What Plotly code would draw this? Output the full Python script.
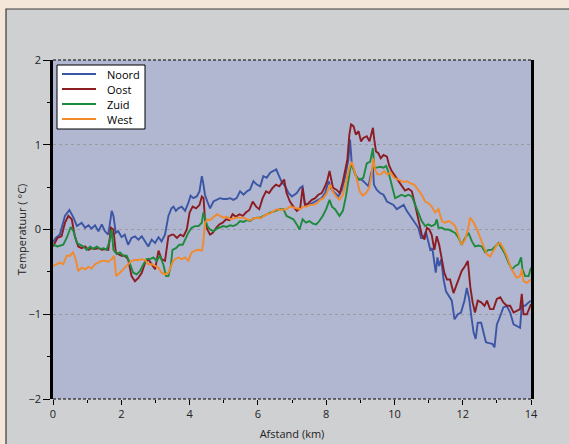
import plotly.graph_objects as go

# ---- data ----
noord_km = [0, 0.08, 0.2, 0.35, 0.48, 0.6, 0.7, 0.84, 0.94, 1.04, 1.13, 1.23, 1.33, 1.43, 1.52, 1.62, 1.72, 1.77, 1.84, 1.91,
            2.01, 2.1, 2.2, 2.3, 2.4, 2.5, 2.6, 2.7, 2.79, 2.89, 2.99, 3.09, 3.18, 3.28, 3.38, 3.47, 3.53, 3.6, 3.67, 3.77,
            3.87, 3.96, 4.03, 4.11, 4.21, 4.29, 4.36, 4.4, 4.45, 4.52, 4.6, 4.7, 4.8, 4.89, 4.99, 5.09, 5.19, 5.28, 5.38, 5.48,
            5.58, 5.68, 5.77, 5.87, 5.97, 6.07, 6.16, 6.26, 6.36, 6.46, 6.54, 6.6, 6.7, 6.8, 6.9, 7.0, 7.07, 7.14, 7.24, 7.31,
            7.38, 7.48, 7.58, 7.68, 7.77, 7.87, 7.97, 8.07, 8.16, 8.26, 8.36, 8.46, 8.55, 8.65, 8.7, 8.75, 8.85, 8.95, 9.04, 9.14,
            9.24, 9.32, 9.37, 9.4, 9.48, 9.58, 9.68, 9.78, 9.88, 9.97, 10.07, 10.17, 10.27, 10.36, 10.46, 10.56, 10.7, 10.78, 10.85, 10.92,
            10.98, 11.05, 11.11, 11.17, 11.21, 11.26, 11.31, 11.37, 11.44, 11.51, 11.58, 11.68, 11.76, 11.86, 11.95, 12.05, 12.12, 12.19, 12.25, 12.32,
            12.38, 12.44, 12.54, 12.61, 12.68, 12.77, 12.87, 12.93, 13.0, 13.1, 13.19, 13.29, 13.39, 13.49, 13.58, 13.68, 13.73, 13.83, 13.93, 14.0]
noord_t = [-0.15, -0.1, -0.06, 0.16, 0.23, 0.14, 0.04, 0.08, 0.02, 0.05, 0.01, 0.05, -0.02, 0.06, -0.02, -0.06, 0.22, 0.16, -0.04, -0.02,
           -0.09, -0.06, -0.18, -0.1, -0.08, -0.12, -0.08, -0.14, -0.2, -0.12, -0.16, -0.09, -0.14, -0.06, 0.16, 0.25, 0.27, 0.22, 0.25, 0.27,
           0.22, 0.31, 0.4, 0.37, 0.39, 0.45, 0.63, 0.55, 0.41, 0.33, 0.25, 0.33, 0.35, 0.37, 0.36, 0.36, 0.37, 0.35, 0.37, 0.45,
           0.41, 0.45, 0.47, 0.57, 0.53, 0.51, 0.63, 0.61, 0.67, 0.69, 0.71, 0.65, 0.56, 0.51, 0.43, 0.39, 0.41, 0.43, 0.49, 0.51,
           0.29, 0.29, 0.31, 0.33, 0.35, 0.37, 0.43, 0.57, 0.47, 0.43, 0.39, 0.47, 0.61, 0.82, 1.06, 0.78, 0.65, 0.59, 0.59, 0.55,
           0.51, 0.67, 0.73, 0.53, 0.47, 0.43, 0.41, 0.33, 0.31, 0.29, 0.24, 0.27, 0.29, 0.22, 0.16, 0.09, 0.02, -0.1, -0.1, -0.02,
           -0.12, -0.24, -0.22, -0.39, -0.51, -0.33, -0.43, -0.35, -0.59, -0.73, -0.78, -0.84, -1.06, -1.0, -0.98, -0.84, -0.69, -0.82, -1.02, -1.22,
           -1.29, -1.1, -1.1, -1.22, -1.33, -1.34, -1.35, -1.39, -1.12, -1.02, -0.92, -0.9, -0.98, -1.12, -1.14, -1.16, -0.9, -0.9, -0.86, -0.84]

oost_km = [0, 0.13, 0.25, 0.35, 0.45, 0.55, 0.64, 0.74, 0.84, 0.94, 1.04, 1.13, 1.23, 1.33, 1.43, 1.52, 1.62, 1.7, 1.77, 1.84,
           1.91, 2.01, 2.1, 2.2, 2.3, 2.4, 2.5, 2.6, 2.7, 2.79, 2.89, 2.99, 3.09, 3.18, 3.28, 3.38, 3.48, 3.53, 3.63, 3.73,
           3.82, 3.92, 4.0, 4.09, 4.19, 4.29, 4.36, 4.41, 4.45, 4.52, 4.6, 4.68, 4.78, 4.87, 4.97, 5.07, 5.17, 5.26, 5.36, 5.46,
           5.56, 5.65, 5.75, 5.85, 5.95, 6.04, 6.14, 6.24, 6.33, 6.43, 6.53, 6.63, 6.7, 6.77, 6.84, 6.94, 7.04, 7.14, 7.24, 7.31,
           7.38, 7.48, 7.58, 7.68, 7.77, 7.87, 7.97, 8.04, 8.1, 8.15, 8.2, 8.3, 8.4, 8.48, 8.55, 8.62, 8.68, 8.73, 8.8, 8.87,
           8.95, 9.02, 9.09, 9.19, 9.27, 9.37, 9.41, 9.46, 9.53, 9.6, 9.68, 9.78, 9.85, 9.92, 10.02, 10.12, 10.21, 10.31, 10.41, 10.51,
           10.6, 10.7, 10.8, 10.88, 10.95, 11.02, 11.09, 11.17, 11.24, 11.31, 11.39, 11.46, 11.54, 11.63, 11.73, 11.8, 11.88, 11.97, 12.07, 12.15,
           12.22, 12.29, 12.36, 12.44, 12.54, 12.64, 12.71, 12.8, 12.9, 13.0, 13.1, 13.19, 13.29, 13.39, 13.49, 13.58, 13.68, 13.73, 13.78, 13.88, 14.0]
oost_t = [-0.2, -0.1, -0.08, 0.08, 0.16, 0.12, -0.08, -0.2, -0.22, -0.2, -0.24, -0.22, -0.23, -0.22, -0.24, -0.23, -0.24, 0.02, 0.0, -0.27,
          -0.29, -0.31, -0.31, -0.35, -0.55, -0.61, -0.57, -0.51, -0.39, -0.35, -0.41, -0.47, -0.25, -0.35, -0.37, -0.08, -0.06, -0.06, -0.1, -0.06,
          -0.08, 0.0, 0.2, 0.27, 0.25, 0.29, 0.39, 0.37, 0.12, 0.0, -0.06, -0.04, 0.02, 0.06, 0.08, 0.12, 0.11, 0.18, 0.15, 0.18,
          0.16, 0.2, 0.23, 0.33, 0.27, 0.24, 0.37, 0.45, 0.43, 0.49, 0.53, 0.51, 0.55, 0.59, 0.43, 0.33, 0.27, 0.22, 0.25, 0.49,
          0.29, 0.31, 0.35, 0.37, 0.41, 0.43, 0.51, 0.59, 0.69, 0.57, 0.49, 0.47, 0.43, 0.55, 0.67, 0.82, 1.12, 1.24, 1.22, 1.12,
          1.16, 1.04, 1.08, 1.1, 1.04, 1.2, 1.06, 0.92, 0.9, 0.84, 0.88, 0.86, 0.75, 0.69, 0.63, 0.57, 0.51, 0.46, 0.48, 0.45,
          0.3, 0.12, -0.06, -0.12, 0.02, 0.0, -0.06, -0.24, -0.08, -0.18, -0.35, -0.51, -0.59, -0.59, -0.75, -0.67, -0.59, -0.49, -0.43, -0.37,
          -0.67, -0.86, -0.98, -0.84, -0.86, -0.9, -0.84, -0.94, -0.94, -0.82, -0.8, -0.86, -0.9, -0.9, -0.98, -0.96, -0.94, -0.76, -1.0, -1.0, -0.88]

zuid_km = [0, 0.13, 0.3, 0.4, 0.52, 0.6, 0.7, 0.79, 0.89, 0.99, 1.09, 1.18, 1.28, 1.38, 1.48, 1.57, 1.67, 1.72, 1.77, 1.87,
           1.96, 2.06, 2.16, 2.26, 2.35, 2.45, 2.55, 2.65, 2.74, 2.84, 2.94, 3.04, 3.13, 3.23, 3.31, 3.38, 3.45, 3.5, 3.6, 3.7,
           3.8, 3.87, 3.96, 4.06, 4.16, 4.26, 4.36, 4.4, 4.45, 4.52, 4.6, 4.7, 4.8, 4.89, 4.99, 5.09, 5.19, 5.28, 5.38, 5.48,
           5.58, 5.68, 5.77, 5.87, 5.97, 6.07, 6.16, 6.26, 6.36, 6.46, 6.55, 6.65, 6.75, 6.84, 6.94, 7.04, 7.14, 7.22, 7.31, 7.41,
           7.51, 7.61, 7.71, 7.8, 7.9, 8.0, 8.1, 8.17, 8.26, 8.39, 8.49, 8.58, 8.68, 8.73, 8.8, 8.9, 8.99, 9.09, 9.19, 9.29,
           9.37, 9.41, 9.48, 9.58, 9.68, 9.76, 9.83, 9.92, 10.02, 10.12, 10.21, 10.31, 10.41, 10.51, 10.6, 10.7, 10.8, 10.9, 10.99, 11.09,
           11.19, 11.24, 11.29, 11.39, 11.48, 11.58, 11.68, 11.78, 11.88, 11.97, 12.07, 12.17, 12.27, 12.36, 12.46, 12.56, 12.66, 12.75, 12.85, 12.95,
           13.05, 13.14, 13.24, 13.34, 13.44, 13.54, 13.63, 13.71, 13.75, 13.83, 13.93, 14.0]
zuid_t = [-0.18, -0.2, -0.18, -0.1, 0.03, -0.02, -0.16, -0.18, -0.2, -0.24, -0.2, -0.23, -0.2, -0.23, -0.22, -0.24, -0.12, 0.0, -0.24, -0.29,
          -0.27, -0.31, -0.31, -0.41, -0.51, -0.53, -0.49, -0.41, -0.35, -0.35, -0.33, -0.37, -0.31, -0.41, -0.55, -0.55, -0.43, -0.24, -0.22, -0.18,
          -0.18, -0.12, -0.04, 0.02, 0.04, 0.04, 0.08, 0.2, 0.14, 0.04, 0.0, -0.02, 0.01, 0.02, 0.04, 0.03, 0.05, 0.04, 0.06, 0.1,
          0.09, 0.11, 0.1, 0.13, 0.14, 0.14, 0.16, 0.18, 0.2, 0.21, 0.22, 0.24, 0.24, 0.16, 0.14, 0.12, 0.06, 0.0, 0.12, 0.08,
          0.1, 0.07, 0.06, 0.1, 0.16, 0.24, 0.35, 0.27, 0.24, 0.16, 0.22, 0.39, 0.65, 0.78, 0.71, 0.61, 0.59, 0.61, 0.78, 0.8,
          0.96, 0.73, 0.73, 0.74, 0.73, 0.75, 0.67, 0.51, 0.37, 0.39, 0.41, 0.39, 0.41, 0.39, 0.29, 0.2, 0.1, 0.04, 0.06, 0.04,
          0.06, 0.12, 0.02, 0.02, 0.0, 0.0, -0.02, -0.04, -0.1, -0.18, -0.1, -0.04, -0.14, -0.2, -0.19, -0.2, -0.27, -0.24, -0.24, -0.2,
          -0.16, -0.22, -0.29, -0.39, -0.47, -0.43, -0.41, -0.33, -0.47, -0.55, -0.55, -0.45]

west_km = [0, 0.1, 0.2, 0.3, 0.4, 0.5, 0.58, 0.65, 0.74, 0.84, 0.94, 1.04, 1.13, 1.23, 1.33, 1.43, 1.52, 1.62, 1.72, 1.79,
           1.85, 1.91, 2.01, 2.1, 2.2, 2.3, 2.4, 2.5, 2.6, 2.7, 2.79, 2.89, 2.99, 3.09, 3.18, 3.28, 3.38, 3.45, 3.52, 3.57,
           3.67, 3.77, 3.87, 3.96, 4.06, 4.16, 4.26, 4.36, 4.4, 4.45, 4.52, 4.6, 4.7, 4.8, 4.89, 4.99, 5.09, 5.19, 5.28, 5.38,
           5.48, 5.58, 5.68, 5.77, 5.87, 5.97, 6.07, 6.16, 6.26, 6.36, 6.46, 6.55, 6.65, 6.75, 6.84, 6.94, 7.04, 7.14, 7.24, 7.33,
           7.43, 7.53, 7.63, 7.73, 7.82, 7.92, 8.02, 8.12, 8.19, 8.29, 8.39, 8.49, 8.58, 8.68, 8.75, 8.82, 8.9, 8.98, 9.07, 9.17,
           9.26, 9.33, 9.38, 9.43, 9.5, 9.6, 9.7, 9.79, 9.89, 9.99, 10.09, 10.19, 10.28, 10.38, 10.48, 10.58, 10.7, 10.8, 10.9, 11.0,
           11.09, 11.19, 11.29, 11.34, 11.39, 11.48, 11.58, 11.68, 11.78, 11.88, 11.97, 12.07, 12.15, 12.22, 12.32, 12.42, 12.51, 12.61, 12.71, 12.8,
           12.9, 13.0, 13.1, 13.19, 13.29, 13.39, 13.49, 13.58, 13.68, 13.73, 13.78, 13.88, 14.0]
west_t = [-0.43, -0.41, -0.39, -0.41, -0.31, -0.31, -0.27, -0.33, -0.49, -0.45, -0.47, -0.44, -0.46, -0.41, -0.39, -0.37, -0.37, -0.38, -0.35, -0.31,
          -0.55, -0.53, -0.49, -0.45, -0.41, -0.37, -0.36, -0.36, -0.35, -0.36, -0.41, -0.41, -0.43, -0.45, -0.51, -0.53, -0.51, -0.45, -0.37, -0.35,
          -0.33, -0.35, -0.33, -0.37, -0.27, -0.25, -0.24, -0.25, -0.16, 0.08, 0.12, 0.11, 0.15, 0.18, 0.16, 0.14, 0.15, 0.12, 0.13, 0.14,
          0.14, 0.14, 0.12, 0.11, 0.13, 0.14, 0.13, 0.15, 0.18, 0.19, 0.22, 0.24, 0.23, 0.24, 0.24, 0.27, 0.26, 0.25, 0.24, 0.27,
          0.27, 0.29, 0.29, 0.31, 0.35, 0.37, 0.43, 0.53, 0.45, 0.39, 0.35, 0.41, 0.55, 0.73, 0.8, 0.71, 0.59, 0.45, 0.4, 0.43,
          0.49, 0.65, 0.84, 0.71, 0.65, 0.65, 0.69, 0.65, 0.67, 0.61, 0.59, 0.57, 0.56, 0.57, 0.54, 0.53, 0.47, 0.41, 0.33, 0.31,
          0.27, 0.2, 0.24, 0.16, 0.1, 0.08, 0.1, 0.08, 0.04, -0.08, -0.18, -0.12, 0.0, 0.14, 0.08, 0.0, -0.1, -0.2, -0.29, -0.32,
          -0.25, -0.18, -0.16, -0.22, -0.31, -0.43, -0.51, -0.57, -0.55, -0.47, -0.61, -0.63, -0.59]

series_names = ["Noord", "Oost", "Zuid", "West"]
series_colors = ["#3b56a5", "#8b1c22", "#1e8a3c", "#f38a2a"]
x_ticks = [0, 2, 4, 6, 8, 10, 12, 14]
y_ticks = [-2, -1, 0, 1, 2]

# ---- figure ----
W, H = 569, 444
L, R, T, B = 53, 38, 60, 45
pw, ph = W - L - R, H - T - B


def px(x):
    return (x - L) / pw


def py(y):
    return (H - B - y) / ph


fig = go.Figure()
for name, color, xs, ys in zip(series_names, series_colors,
                               [noord_km, oost_km, zuid_km, west_km],
                               [noord_t, oost_t, zuid_t, west_t]):
    fig.add_trace(go.Scatter(x=xs, y=ys, mode="lines", name=name, showlegend=False,
                             line=dict(color=color, width=1.9)))

shapes = [
    # grey panel with dark border
    dict(type="rect", xref="paper", yref="paper", x0=px(6), x1=px(575), y0=py(450), y1=py(9),
         fillcolor="#cfd0d2", line=dict(color="#3a3a3a", width=1.2), layer="below"),
    # plot area background
    dict(type="rect", xref="paper", yref="paper", x0=0, x1=1, y0=0, y1=1,
         fillcolor="#b1b6d1", line=dict(width=0), layer="below"),
    # dashed top and bottom frame lines
    dict(type="line", xref="paper", yref="paper", x0=0, x1=1, y0=1, y1=1,
         line=dict(color="black", width=1, dash="3px,2px")),
    dict(type="line", xref="paper", yref="paper", x0=0, x1=1, y0=0, y1=0,
         line=dict(color="black", width=1, dash="3px,2px")),
    # legend box
    dict(type="rect", xref="paper", yref="paper", x0=px(57), x1=px(145), y0=py(129), y1=py(65),
         fillcolor="white", line=dict(color="black", width=1)),
]
annotations = []
for i, (name, color) in enumerate(zip(series_names, series_colors)):
    yy = 74 + 15 * i
    shapes.append(dict(type="line", xref="paper", yref="paper", x0=px(62), x1=px(96), y0=py(yy), y1=py(yy),
                       line=dict(color=color, width=2)))
    annotations.append(dict(xref="paper", yref="paper", x=px(106), y=py(yy), text=name, showarrow=False,
                            xanchor="left", yanchor="middle", borderpad=0,
                            font=dict(size=11, color="black")))

fig.update_layout(
    width=W, height=H,
    margin=dict(l=L, r=R, t=T, b=B),
    paper_bgcolor="#f5e6da",
    plot_bgcolor="#b1b6d1",
    font=dict(family="Open Sans, Noto Sans, sans-serif", size=11, color="#222"),
    shapes=shapes,
    annotations=annotations,
    showlegend=False,
    xaxis=dict(range=[0, 14], tickvals=x_ticks, ticks="outside", ticklen=5, tickwidth=1,
               tickcolor="black", showgrid=False, zeroline=False, showline=False, automargin=False,
               minor=dict(dtick=1, ticks="outside", ticklen=3, tickcolor="black", showgrid=False),
               title=dict(text="Afstand (km)", standoff=10, font=dict(size=11))),
    yaxis=dict(range=[-2, 2], tickvals=y_ticks, ticks="outside", ticklen=7, tickwidth=1.3,
               tickcolor="black", showgrid=True, gridcolor="#9a9ba0", griddash="dot", gridwidth=1,
               zeroline=False, showline=True, linecolor="black", linewidth=2.5, mirror=True, automargin=False,
               minor=dict(dtick=0.5, ticks="outside", ticklen=3, tickcolor="black", showgrid=False),
               title=dict(text="Temperatuur ( °C)", standoff=0, font=dict(size=11))),
)

fig.write_html("out.html", config={"displayModeBar": False},
               post_script="document.body.style.margin='0px';document.body.style.background='#f5e6da';")
